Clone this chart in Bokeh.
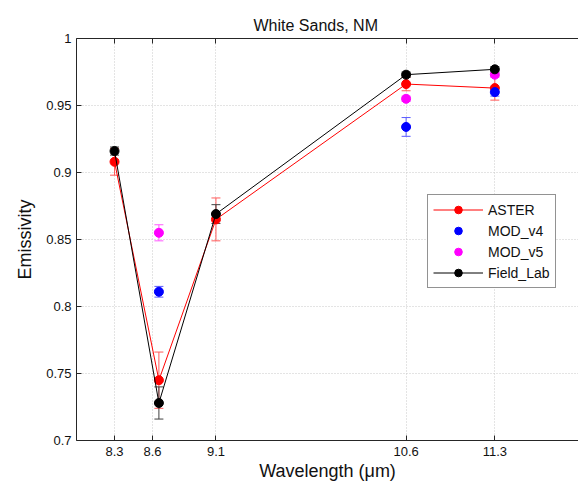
from bokeh.plotting import figure
from bokeh.models import (Range1d, FixedTicker, CustomJSTickFormatter, Whisker, TeeHead,
                          ColumnDataSource, Legend, LegendItem, LinearAxis)
from bokeh.embed import file_html
from bokeh.resources import INLINE

# ---- data ----
wl = [8.3, 8.65, 9.1, 10.6, 11.3]
aster = [0.908, 0.745, 0.865, 0.966, 0.963]
aster_err = [0.010, 0.021, 0.016, 0.005, 0.009]
field = [0.916, 0.728, 0.869, 0.973, 0.977]
field_err = [0.003, 0.012, 0.007, 0.002, 0.002]
mod_wl = [8.65, 10.6, 11.3]
mod_v4 = [0.811, 0.934, 0.960]
mod_v4_err = [0.004, 0.007, 0.003]
mod_v5 = [0.855, 0.955, 0.973]
mod_v5_err = [0.006, 0.002, 0.002]
x_ticks = [8.3, 8.6, 9.1, 10.6, 11.3]
y_ticks = [0.7, 0.75, 0.8, 0.85, 0.9, 0.95, 1.0]

FONT = "Liberation Sans"

p = figure(width=578, height=487, output_backend="svg", toolbar_location=None,
           x_range=Range1d(8.0, 11.96), y_range=Range1d(0.7, 1.0),
           min_border_left=76, min_border_right=0, min_border_top=38, min_border_bottom=47)
p.outline_line_color = None
p.background_fill_color = "white"

p.title.text = "White Sands, NM"
p.title.text_font = FONT
p.title.text_font_size = "16px"
p.title.text_font_style = "normal"
p.title.align = "left"
p.title.offset = 177
p.title.text_color = "#111111"

fmt = CustomJSTickFormatter(code="return String(Math.round(tick*100)/100);")

for ax in (p.xaxis[0], p.yaxis[0]):
    ax.formatter = fmt
    ax.major_tick_in = 5
    ax.major_tick_out = 0
    ax.minor_tick_in = 0
    ax.minor_tick_out = 0
    ax.axis_line_color = "#262626"
    ax.major_tick_line_color = "#262626"
    ax.major_label_text_font = FONT
    ax.major_label_text_font_size = "13px"
    ax.major_label_text_color = "#111111"
    ax.axis_label_text_font = FONT
    ax.axis_label_text_font_size = "18px"
    ax.axis_label_text_font_style = "normal"
    ax.axis_label_text_color = "#111111"

p.xaxis[0].ticker = FixedTicker(ticks=x_ticks)
p.yaxis[0].ticker = FixedTicker(ticks=y_ticks)
p.xaxis[0].axis_label = "Wavelength (μm)"
p.yaxis[0].axis_label = "Emissivity"
p.xaxis[0].major_label_standoff = 6
p.xaxis[0].axis_label_standoff = 2
p.yaxis[0].major_label_standoff = 5
p.yaxis[0].axis_label_standoff = 8

top = LinearAxis(ticker=FixedTicker(ticks=x_ticks), major_tick_in=5, major_tick_out=0,
                 minor_tick_in=0, minor_tick_out=0,
                 formatter=CustomJSTickFormatter(code="return '';"),
                 major_label_standoff=0, axis_line_color="#262626",
                 major_tick_line_color="#262626")
p.add_layout(top, "above")

for g in (p.xgrid[0], p.ygrid[0]):
    g.grid_line_color = "#c8c8c8"
    g.grid_line_dash = "1 2"
    g.grid_line_width = 1
p.xgrid[0].ticker = FixedTicker(ticks=x_ticks)
p.ygrid[0].ticker = FixedTicker(ticks=y_ticks)


def add_err(xs, ys, errs, color):
    src = ColumnDataSource(dict(x=xs, lo=[y - e for y, e in zip(ys, errs)],
                                hi=[y + e for y, e in zip(ys, errs)]))
    w = Whisker(source=src, base="x", lower="lo", upper="hi", line_color=color, line_width=1,
                upper_head=TeeHead(size=9, line_color=color, line_width=1),
                lower_head=TeeHead(size=9, line_color=color, line_width=1))
    p.add_layout(w)


add_err(wl, aster, aster_err, "#ff5a5a")
add_err(mod_wl, mod_v4, mod_v4_err, "#5a5aff")
add_err(mod_wl, mod_v5, mod_v5_err, "#ff5aff")
add_err(wl, field, field_err, "#404040")

r_al = p.line(wl, aster, line_color="red", line_width=1)
r_as = p.scatter(wl, aster, size=9, fill_color="red", line_color="red")
r_v4 = p.scatter(mod_wl, mod_v4, size=9, fill_color="blue", line_color="blue")
r_v5 = p.scatter(mod_wl, mod_v5, size=9, fill_color="magenta", line_color="magenta")
r_fl = p.line(wl, field, line_color="black", line_width=1)
r_fs = p.scatter(wl, field, size=9, fill_color="black", line_color="black")

legend = Legend(items=[
    LegendItem(label="ASTER", renderers=[r_al, r_as]),
    LegendItem(label="MOD_v4", renderers=[r_v4]),
    LegendItem(label="MOD_v5", renderers=[r_v5]),
    LegendItem(label="Field_Lab", renderers=[r_fl, r_fs]),
], location=(351, 152))
legend.label_text_font = FONT
legend.label_text_font_size = "14px"
legend.label_text_color = "#111111"
legend.glyph_width = 50
legend.glyph_height = 19
legend.label_height = 19
legend.spacing = 2
legend.padding = 5
legend.margin = 0
legend.label_standoff = 5
legend.border_line_color = "#262626"
legend.border_line_width = 1
legend.background_fill_alpha = 1
p.add_layout(legend)

open("out.html", "w").write(file_html(p, INLINE))
